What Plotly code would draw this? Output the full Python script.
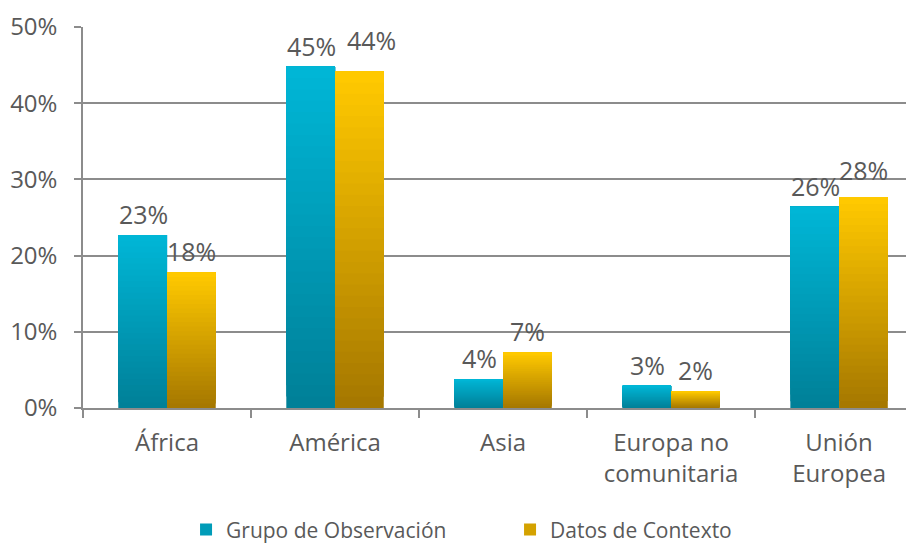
import plotly.graph_objects as go

categories = ["África", "América", "Asia", "Europa no<br>comunitaria", "Unión<br>Europea"]
obs_values = [22.7, 44.8, 3.8, 2.9, 26.4]
ctx_values = [17.8, 44.2, 7.3, 2.2, 27.7]
obs_labels = ["23%", "45%", "4%", "3%", "26%"]
ctx_labels = ["18%", "44%", "7%", "2%", "28%"]
series_names = ["Grupo de Observación", "Datos de Contexto"]
y_ticks = [0, 10, 20, 30, 40, 50]
y_tick_text = ["0%", "10%", "20%", "30%", "40%", "50%"]

# label nudges (px) as the original layout moved some labels to avoid overlap
ctx_label_nudge = {1: (12, 10), 4: (0, 6)}

N = 30

def lerp(c1, c2, t):
    return "rgb(%d,%d,%d)" % tuple(round(a + (b - a) * t) for a, b in zip(c1, c2))

teal_top, teal_bot = (0, 182, 214), (0, 128, 152)
gold_top, gold_bot = (255, 201, 0), (166, 120, 0)

fig = go.Figure()

def add_series(values, name, group, top, bot):
    for i in range(N):
        t = i / (N - 1)
        fig.add_trace(go.Bar(
            x=categories,
            y=[v - v * i / N for v in values],
            base=[v * i / N for v in values],
            offsetgroup=group,
            marker=dict(color=lerp(bot, top, t), line=dict(width=0)),
            name=name,
            legendgroup=group,
            showlegend=(i == N // 2),
            hoverinfo="skip",
        ))

add_series(obs_values, series_names[0], "obs", teal_top, teal_bot)
add_series(ctx_values, series_names[1], "ctx", gold_top, gold_bot)

text_color = "#595959"
for k, (c, v, l) in enumerate(zip(categories, obs_values, obs_labels)):
    fig.add_annotation(x=c, y=v, text=l, showarrow=False, yanchor="bottom",
                       xshift=-24, yshift=2,
                       font=dict(size=25, color=text_color, family="Open Sans"))
for k, (c, v, l) in enumerate(zip(categories, ctx_values, ctx_labels)):
    dx, dy = ctx_label_nudge.get(k, (0, 0))
    fig.add_annotation(x=c, y=v, text=l, showarrow=False, yanchor="bottom",
                       xshift=24 + dx, yshift=2 + dy,
                       font=dict(size=25, color=text_color, family="Open Sans"))

fig.update_layout(
    width=906, height=538,
    margin=dict(l=75, r=0, t=19, b=138, autoexpand=False),
    barmode="group",
    bargap=0.42,
    bargroupgap=0,
    plot_bgcolor="white",
    paper_bgcolor="white",
    font=dict(family="Open Sans", size=24, color=text_color),
    legend=dict(orientation="h", x=0.124, xanchor="left", y=-0.32, yanchor="middle",
                font=dict(size=21, color=text_color), itemwidth=30, tracegroupgap=0,
                entrywidth=279, entrywidthmode="pixels"),
)
fig.update_xaxes(
    type="category",
    range=[-0.5, 4.446],
    automargin=False,
    showline=True, linecolor="#8c8c8c", linewidth=1.5,
    ticks="outside", tickson="boundaries", ticklen=8, tickcolor="#8c8c8c", tickwidth=1.5,
    ticklabelstandoff=12,
    tickfont=dict(size=24),
    showgrid=False,
)
fig.update_yaxes(
    range=[0, 50],
    automargin=False,
    tickvals=y_ticks, ticktext=y_tick_text,
    showline=True, linecolor="#8c8c8c", linewidth=1.5,
    ticks="outside", ticklen=7, tickcolor="#8c8c8c", tickwidth=1.5,
    tickfont=dict(size=24),
    showgrid=True, gridcolor="#8c8c8c", gridwidth=1.5,
    ticklabelstandoff=12,
    zeroline=False,
)

fig.write_html("out.html")
